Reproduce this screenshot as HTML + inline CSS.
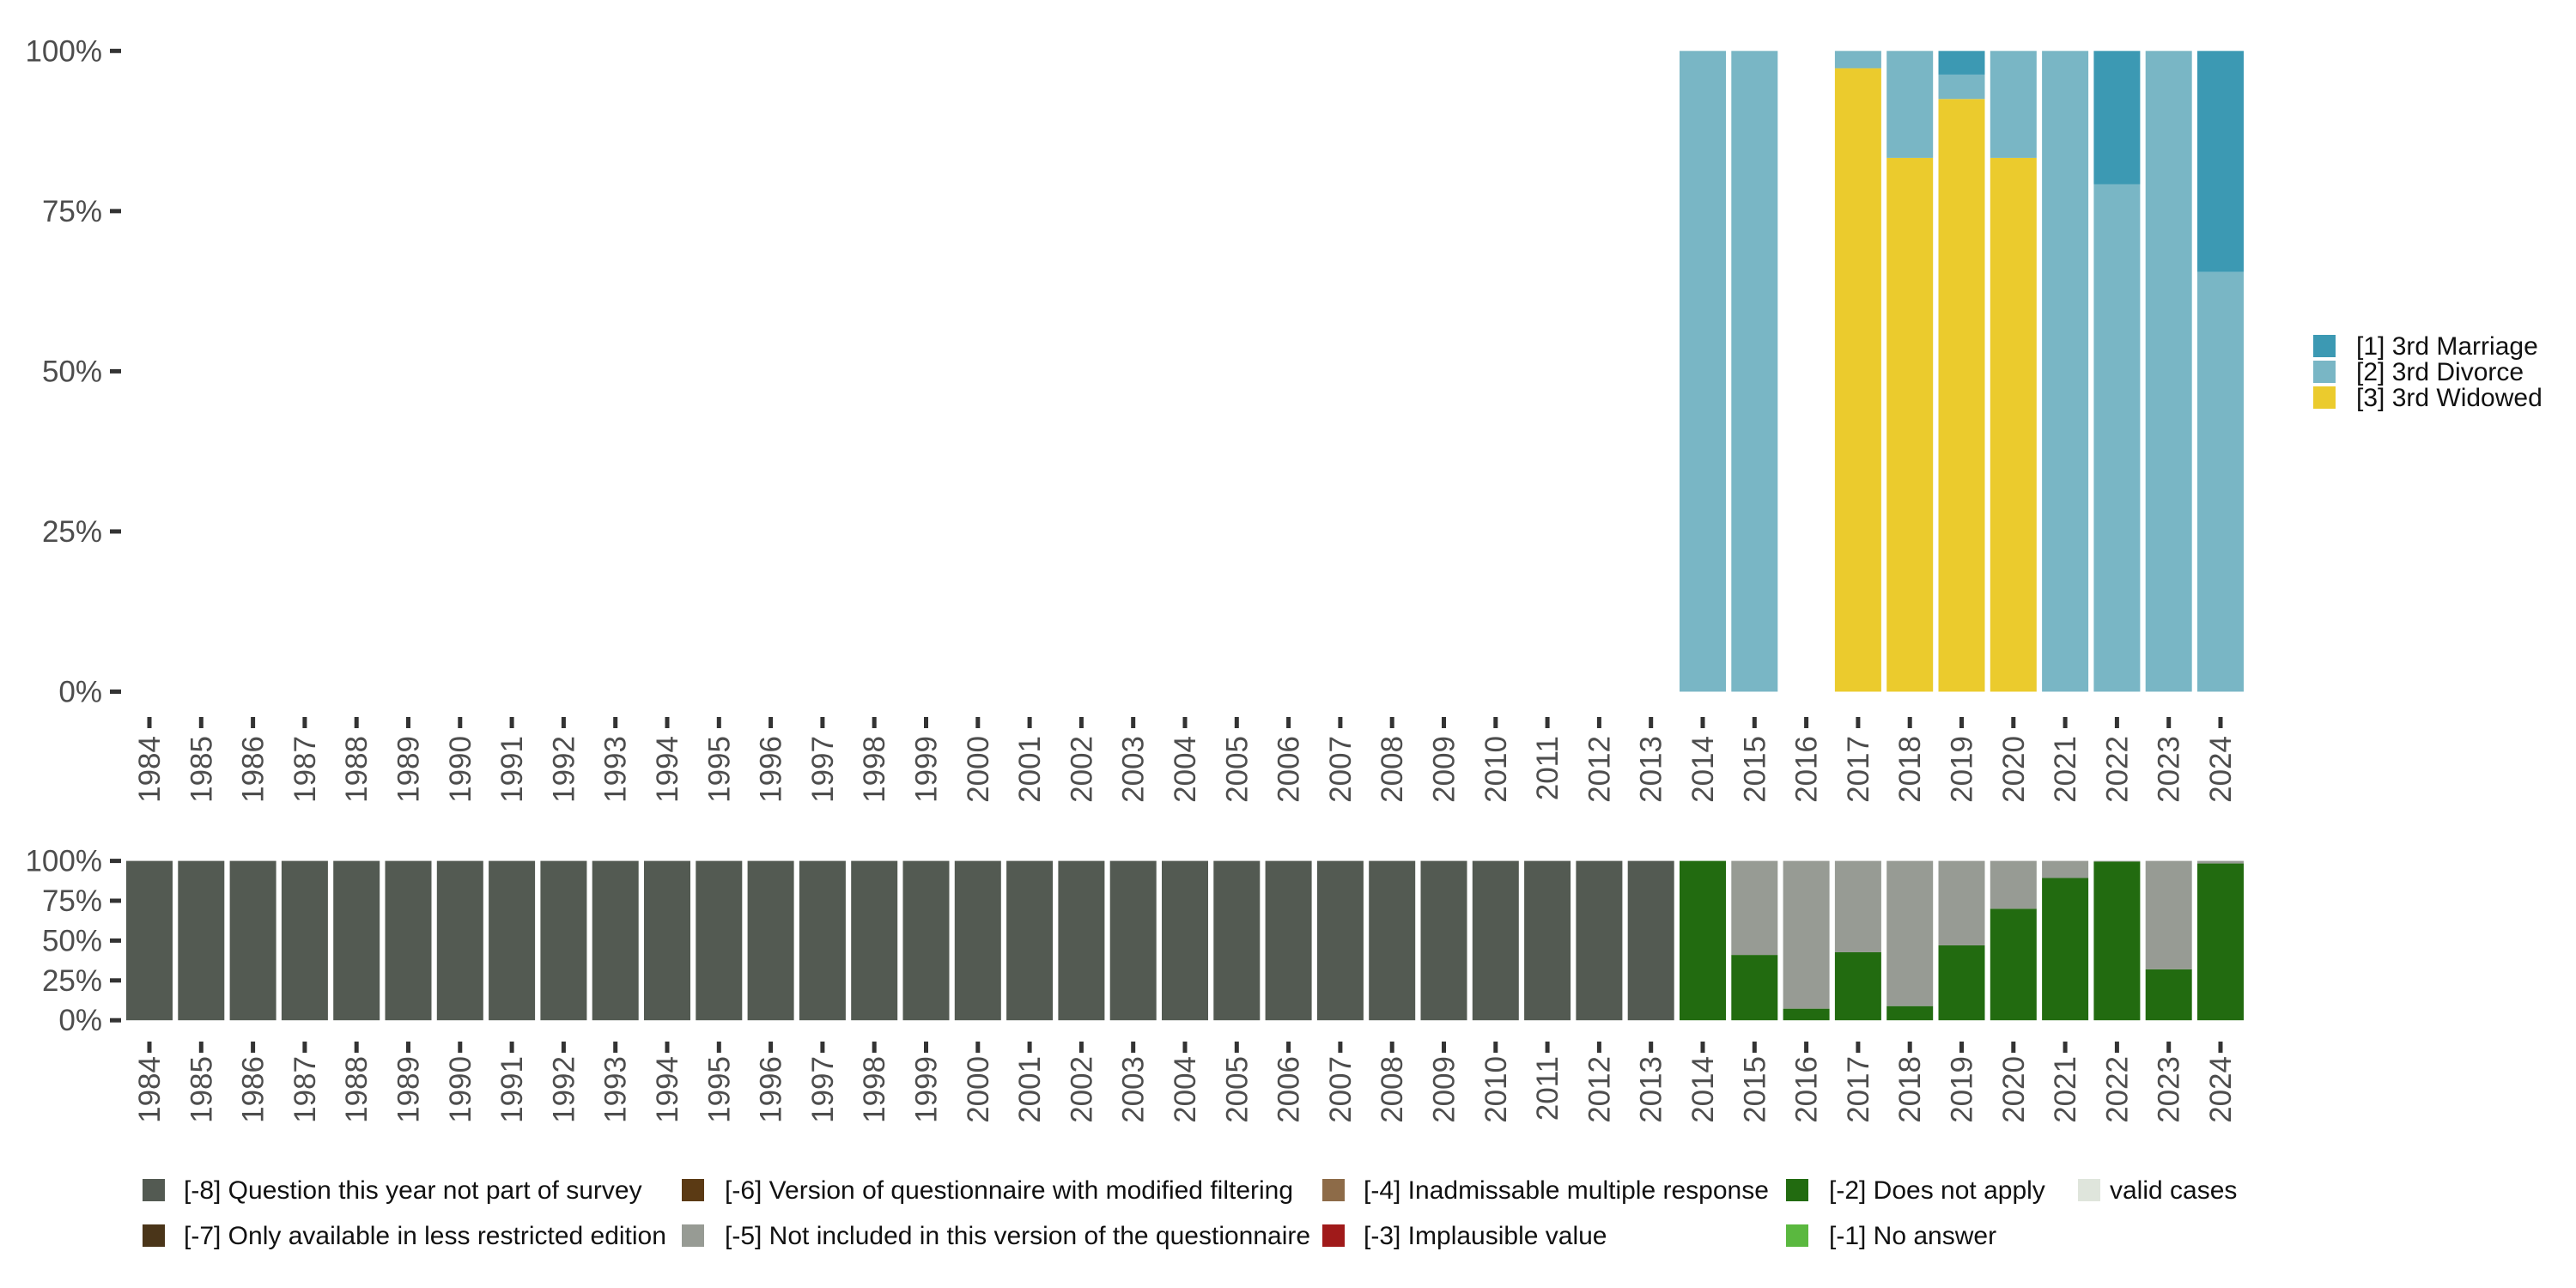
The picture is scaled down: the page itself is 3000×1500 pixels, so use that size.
<!DOCTYPE html>
<html><head><meta charset="utf-8"><style>
body{margin:0;background:#fff}
svg{display:block;font-family:"Liberation Sans","DejaVu Sans",sans-serif}
</style></head><body>
<svg id="c" width="3000" height="1500" viewBox="0 0 3000 1500"></svg>
<script>
const years=[];for(let y=1984;y<=2024;y++)years.push(String(y));
// top panel (percent)
const topMarriage=[0,0,0,0,0,0,0,0,0,0,0,0,0,0,0,0,0,0,0,0,0,0,0,0,0,0,0,0,0,0, 0,0,0,0,0,3.7,0,0,20.8,0,34.5];
const topDivorce =[0,0,0,0,0,0,0,0,0,0,0,0,0,0,0,0,0,0,0,0,0,0,0,0,0,0,0,0,0,0, 100,100,0,2.7,16.7,3.8,16.7,100,79.2,100,65.5];
const topWidowed =[0,0,0,0,0,0,0,0,0,0,0,0,0,0,0,0,0,0,0,0,0,0,0,0,0,0,0,0,0,0, 0,0,0,97.3,83.3,92.5,83.3,0,0,0,0];
// bottom panel (percent)
const botM8=[100,100,100,100,100,100,100,100,100,100,100,100,100,100,100,100,100,100,100,100,100,100,100,100,100,100,100,100,100,100, 0,0,0,0,0,0,0,0,0,0,0];
const botM2=[0,0,0,0,0,0,0,0,0,0,0,0,0,0,0,0,0,0,0,0,0,0,0,0,0,0,0,0,0,0, 100,41,7.3,42.7,8.9,47,70,89.3,99.6,32,98.4];
const botM5=[0,0,0,0,0,0,0,0,0,0,0,0,0,0,0,0,0,0,0,0,0,0,0,0,0,0,0,0,0,0, 0,59,92.7,57.3,91.1,53,30,10.7,0.4,68,1.6];
const yTicks=[0,25,50,75,100];
const yTickLabels=["0%","25%","50%","75%","100%"];

const svg=document.getElementById('c');const NS='http://www.w3.org/2000/svg';
function mk(t,a,txt){const e=document.createElementNS(NS,t);for(const k in a)e.setAttribute(k,a[k]);if(txt!==undefined)e.textContent=txt;svg.appendChild(e);return e;}
const x0=174,step=60.3,bw=54;
const xc=i=>x0+i*step;
function panel(yTop,yBot,series,names,tickY,labY,pname){
  const ys=v=>yBot-(yBot-yTop)*v/100;
  yTicks.forEach((t,i)=>{
    const l=mk('line',{x1:128,x2:141,y1:ys(t),y2:ys(t),stroke:'#333','stroke-width':5});
    
    const tx=mk('text',{x:119,y:ys(t)+12,'text-anchor':'end','font-size':35,fill:'#4d4d4d'},yTickLabels[i]);
    
  });
  years.forEach((yr,i)=>{
    let cum=0;
    series.forEach((s,k)=>{
      const v=s.vals[i];if(v<=0)return;
      const r=mk('rect',{x:xc(i)-bw/2,y:ys(cum+v),width:bw,height:ys(cum)-ys(cum+v),fill:s.color});
      
      cum+=v;
    });
    const tk=mk('line',{x1:xc(i),x2:xc(i),y1:tickY,y2:tickY+13,stroke:'#333','stroke-width':5});
    
    const tl=mk('text',{x:0,y:0,'text-anchor':'end','font-size':35,fill:'#4d4d4d',transform:`translate(${xc(i)+12},${labY}) rotate(-90)`},yr);
    
  });
}
panel(59.3,805.5,[{vals:topWidowed,color:'#ebcb2d'},{vals:topDivorce,color:'#79b6c5'},{vals:topMarriage,color:'#3c99b3'}],['widowed','divorce','marriage'],835,857,'top');
panel(1002.6,1188.2,[{vals:botM2,color:'#226b10'},{vals:botM5,color:'#979b94'},{vals:botM8,color:'#535a52'}],['does-not-apply','not-included','not-part'],1213,1230,'bottom');

const rl=[["[1] 3rd Marriage","#3c99b3"],["[2] 3rd Divorce","#79b6c5"],["[3] 3rd Widowed","#ebcb2d"]];
rl.forEach((e,i)=>{
  const y=390+i*30;
  const r=mk('rect',{x:2694,y:y,width:26,height:26,fill:e[1]});
  
  const t=mk('text',{x:2744,y:y+23,'font-size':30,fill:'#111'},e[0]);
  
});
const bl=[[166,214,0,"[-8] Question this year not part of survey","#535a52"],[166,214,1,"[-7] Only available in less restricted edition","#4a3519"],
[794,844,0,"[-6] Version of questionnaire with modified filtering","#5b3a14"],[794,844,1,"[-5] Not included in this version of the questionnaire","#979b94"],
[1540,1588,0,"[-4] Inadmissable multiple response","#8d6b48"],[1540,1588,1,"[-3] Implausible value","#a01a1a"],
[2080,2130,0,"[-2] Does not apply","#226b10"],[2080,2130,1,"[-1] No answer","#5ab83f"],[2420,2457,0,"valid cases","#dfe5dc"]];
bl.forEach(e=>{
  const y=e[2]?1426:1373;
  const r=mk('rect',{x:e[0],y:y,width:26,height:26,fill:e[4]});
  
  const t=mk('text',{x:e[1],y:y+23,'font-size':30,fill:'#111'},e[3]);
  
});
</script>
</body></html>
